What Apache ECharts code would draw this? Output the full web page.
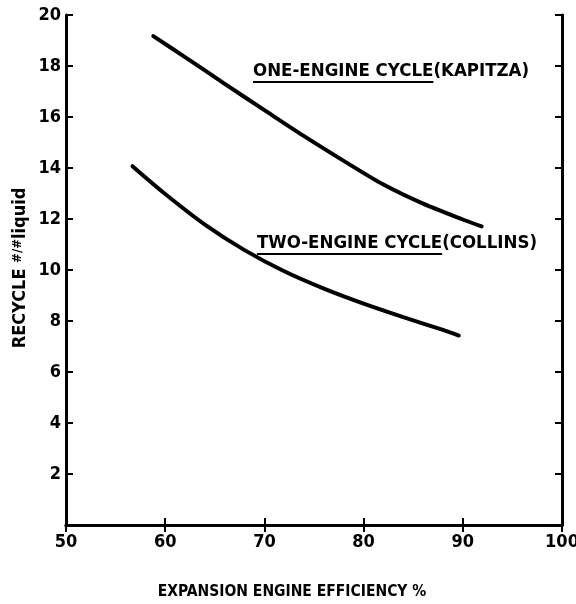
<!DOCTYPE html>
<html>
<head>
<meta charset="utf-8">
<script src="https://cdn.jsdelivr.net/npm/echarts@6/dist/echarts.min.js"></script>
<style>html,body{margin:0;padding:0;background:#fff}#c{width:576px;height:604px}</style>
</head>
<body>
<div id="c"></div>
<script>
// Data
const xTicks = [50, 60, 70, 80, 90, 100];
const yTicks = [0, 2, 4, 6, 8, 10, 12, 14, 16, 18, 20];
const oneEngineX = [58.8, 62, 66, 70, 74, 78, 82, 86, 90, 91.9];
const oneEngineY = [19.17, 18.35, 17.3, 16.27, 15.25, 14.28, 13.35, 12.6, 11.98, 11.71];
const twoEngineX = [56.7, 60, 64, 68, 72, 76, 80, 84, 88, 89.6];
const twoEngineY = [14.07, 12.98, 11.78, 10.78, 9.95, 9.27, 8.68, 8.15, 7.65, 7.43];
const labelOne = ['ONE-ENGINE CYCLE', '(KAPITZA)'];
const labelTwo = ['TWO-ENGINE CYCLE', '(COLLINS)'];
const xTitle = 'EXPANSION ENGINE EFFICIENCY %';
const yTitle = ['RECYCLE ', '#/#', 'liquid'];

const FONT = "'DejaVu Sans Condensed', 'DejaVu Sans', sans-serif";
const chart = echarts.init(document.getElementById('c'), null, {renderer: 'canvas'});
const pairs = (xs, ys) => xs.map((x, i) => [x, ys[i]]);

const axisCommon = {
  axisLine: {show: true, lineStyle: {color: '#000', width: 3}},
  axisTick: {show: true, inside: true, length: 7, lineStyle: {color: '#000', width: 2}},
  splitLine: {show: false}
};

function measure(text, size) {
  const c = document.createElement('canvas').getContext('2d');
  c.font = 'bold ' + size + 'px ' + FONT;
  return c.measureText(text).width;
}

const ANN_SIZE = 18.5;
const ann = [
  {parts: labelOne, x: 253, y: 71, uy: 82},
  {parts: labelTwo, x: 257, y: 243, uy: 254}
];
const graphics = [];
ann.forEach(a => {
  graphics.push({
    type: 'text', x: a.x, y: a.y,
    style: {text: a.parts[0] + a.parts[1], font: 'bold ' + ANN_SIZE + 'px ' + FONT, fill: '#000',
      verticalAlign: 'middle', align: 'left'}
  });
  const w = measure(a.parts[0], ANN_SIZE);
  graphics.push({
    type: 'line', shape: {x1: a.x, y1: a.uy, x2: a.x + w, y2: a.uy},
    style: {stroke: '#000', lineWidth: 2}
  });
});
graphics.push({
  type: 'text', x: 292, y: 592,
  style: {text: xTitle, font: 'bold 15.5px ' + FONT, fill: '#000', align: 'center', verticalAlign: 'middle'}
});
graphics.push({
  type: 'text', rotation: Math.PI / 2, x: 20, y: 268,
  style: {
    text: '{a|' + yTitle[0] + '}{b|' + yTitle[1] + '}{a|' + yTitle[2] + '}',
    align: 'center', verticalAlign: 'middle',
    rich: {
      a: {font: 'bold 18px ' + FONT, fill: '#000'},
      b: {font: 'bold 13px ' + FONT, fill: '#000', verticalAlign: 'top'}
    }
  }
});

chart.setOption({
  animation: false,
  backgroundColor: '#fff',
  grid: {left: 66, right: 14, top: 15, bottom: 79, containLabel: false, outerBoundsMode: 'none'},
  xAxis: [
    Object.assign({}, axisCommon, {
      type: 'value', min: xTicks[0], max: xTicks[xTicks.length - 1], interval: 10,
      axisLabel: {color: '#000', fontFamily: FONT, fontWeight: 'bold', fontSize: 18, margin: 8}
    }),
    Object.assign({}, axisCommon, {
      type: 'value', position: 'top', min: xTicks[0], max: xTicks[xTicks.length - 1], interval: 10,
      axisLabel: {show: false}
    })
  ],
  yAxis: [
    Object.assign({}, axisCommon, {
      type: 'value', min: yTicks[0], max: yTicks[yTicks.length - 1], interval: 2,
      axisLabel: {color: '#000', fontFamily: FONT, fontWeight: 'bold', fontSize: 18, margin: 5,
        formatter: v => v === 0 ? '' : String(v)}
    }),
    Object.assign({}, axisCommon, {
      type: 'value', position: 'right', min: yTicks[0], max: yTicks[yTicks.length - 1], interval: 2,
      axisLabel: {show: false}
    })
  ],
  series: [
    {type: 'line', name: 'one', data: pairs(oneEngineX, oneEngineY), smooth: 0.3, showSymbol: false,
      lineStyle: {color: '#000', width: 4, cap: 'round'}},
    {type: 'line', name: 'two', data: pairs(twoEngineX, twoEngineY), smooth: 0.3, showSymbol: false,
      lineStyle: {color: '#000', width: 4, cap: 'round'}}
  ],
  graphic: graphics
});
</script>
</body>
</html>
